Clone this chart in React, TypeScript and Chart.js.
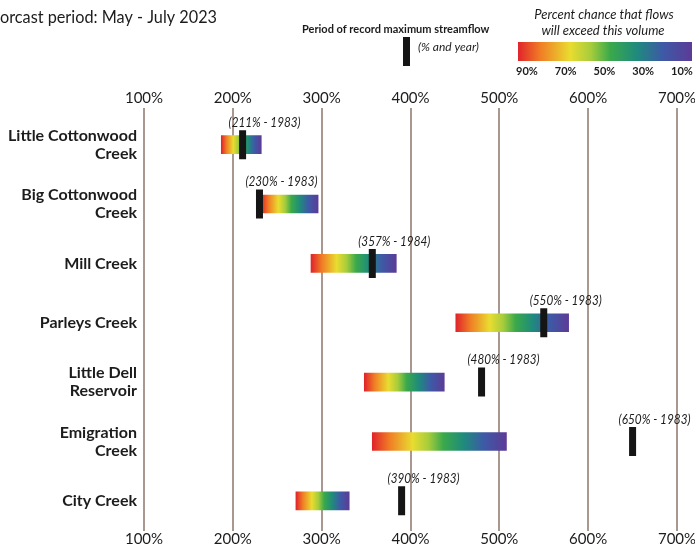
import React, { useEffect, useRef } from 'react';
import { Chart, registerables } from 'chart.js';

Chart.register(...registerables);

// ---- data ----
const categories: (string | string[])[] = [
  ['Little Cottonwood', 'Creek'],
  ['Big Cottonwood', 'Creek'],
  'Mill Creek',
  'Parleys Creek',
  ['Little Dell', 'Reservoir'],
  ['Emigration', 'Creek'],
  'City Creek',
];
const rangeLow = [187, 232, 288, 451, 348, 357, 271];
const rangeHigh = [232, 296, 384, 578, 438, 508, 331];
const recordPct = [211, 230, 357, 550, 480, 650, 390];
const recordYear = [1983, 1983, 1984, 1983, 1983, 1983, 1983];
const xMin = 100;
const xMax = 700;
const xStep = 100;
const legendTicks = ['90%', '70%', '50%', '30%', '10%'];
const titleText = 'orcast period: May - July 2023';
const legendMarkerText = 'Period of record maximum streamflow';
const legendMarkerSub = '(% and year)';
const legendGradText1 = 'Percent chance that flows';
const legendGradText2 = 'will exceed this volume';

const spectrum: [number, string][] = [
  [0, '#e0242b'],
  [0.13, '#f07e25'],
  [0.3, '#e9dc30'],
  [0.42, '#a6cc3c'],
  [0.53, '#3aa94b'],
  [0.68, '#1f8b7c'],
  [0.83, '#3d5aa6'],
  [1, '#5c3b97'],
];

const FONT = 'Lato, "Open Sans", sans-serif';
const GRID = '#a8988f';
const TEXT = '#1c1c1c';

// plot frame (page pixels)
const AREA = { left: 144, right: 677, top: 115, bottom: 530.5 };

function fillGradient(ctx: CanvasRenderingContext2D, x0: number, x1: number) {
  const g = ctx.createLinearGradient(x0, 0, x1, 0);
  spectrum.forEach(([o, c]) => g.addColorStop(o, c));
  return g;
}

const fixLayout = {
  id: 'fixLayout',
  afterLayout(chart: any) {
    const { left: L, right: R, top: T, bottom: B } = AREA;
    const H = chart.height;
    const ca = chart.chartArea;
    ca.left = L; ca.right = R; ca.top = T; ca.bottom = B;
    ca.width = R - L; ca.height = B - T;
    const { x, x2, y } = chart.scales;
    Object.assign(x, { left: L, right: R, width: R - L, top: B, bottom: H, height: H - B });
    Object.assign(x2, { left: L, right: R, width: R - L, top: 0, bottom: T, height: T });
    Object.assign(y, { left: 0, right: L, width: L, top: T, bottom: B, height: B - T });
    [x, x2, y].forEach((s: any) => s.configure());
  },
};

const overlay = {
  id: 'overlay',
  afterDatasetsDraw(chart: any) {
    const ctx: CanvasRenderingContext2D = chart.ctx;
    const xs = chart.scales.x;
    const ys = chart.scales.y;
    ctx.save();
    ctx.fillStyle = TEXT;
    ctx.font = `italic 13px ${FONT}`;
    ctx.textAlign = 'center';
    ctx.textBaseline = 'middle';
    recordPct.forEach((v, i) => {
      const x = xs.getPixelForValue(v);
      const y = ys.getPixelForValue(i);
      ctx.fillText(`(${v}% - ${recordYear[i]})`, x + 22, y - 22, 72);
    });
    ctx.restore();
  },
  afterDraw(chart: any) {
    const ctx: CanvasRenderingContext2D = chart.ctx;
    ctx.save();
    ctx.fillStyle = TEXT;
    ctx.textBaseline = 'middle';
    // title
    ctx.textAlign = 'left';
    ctx.font = `17px ${FONT}`;
    ctx.fillText(titleText, 0, 18, 217);
    // marker legend
    ctx.font = `bold 11px ${FONT}`;
    ctx.fillText(legendMarkerText, 302, 29, 210);
    ctx.fillStyle = '#151515';
    ctx.fillRect(403, 37, 7, 29);
    ctx.fillStyle = TEXT;
    ctx.font = `italic 12px ${FONT}`;
    ctx.fillText(legendMarkerSub, 418, 47, 72);
    // gradient legend
    ctx.textAlign = 'center';
    ctx.font = `italic 13px ${FONT}`;
    ctx.fillText(legendGradText1, 604, 15, 142);
    ctx.fillText(legendGradText2, 603, 31, 127);
    ctx.fillStyle = fillGradient(ctx, 518, 692);
    ctx.fillRect(518, 42, 174, 19);
    ctx.fillStyle = TEXT;
    ctx.font = `bold 11px ${FONT}`;
    const lx0 = 527;
    const lx1 = 682;
    legendTicks.forEach((t, i) => {
      ctx.fillText(t, lx0 + ((lx1 - lx0) * i) / (legendTicks.length - 1), 71);
    });
    ctx.restore();
  },
};

export default function App() {
  const ref = useRef<HTMLCanvasElement | null>(null);

  useEffect(() => {
    if (!ref.current) return;
    const tickCb = (v: any) => `${v}%`;
    const chart = new Chart(ref.current, {
      type: 'bar',
      data: {
        labels: categories as any,
        datasets: [
          {
            type: 'scatter',
            order: 0,
            xAxisID: 'x',
            yAxisID: 'y',
            data: recordPct.map((v, i) => ({ x: v, y: i })),
            pointStyle: 'line',
            pointRotation: 90,
            pointRadius: 14.5,
            pointBorderWidth: 7,
            pointBorderColor: '#151515',
            pointBackgroundColor: '#151515',
            showLine: false,
          } as any,
          {
            type: 'bar',
            order: 1,
            indexAxis: 'y',
            xAxisID: 'x',
            yAxisID: 'y',
            data: rangeLow.map((lo, i) => [lo, rangeHigh[i]]),
            barThickness: 18,
            borderWidth: 0,
            backgroundColor: (c: any) => {
              const chart = c.chart;
              if (!chart.chartArea || c.type !== 'data' || !Array.isArray(c.raw)) return '#888';
              const xs = chart.scales.x;
              const x0 = xs.getPixelForValue(c.raw[0]);
              const x1 = xs.getPixelForValue(c.raw[1]);
              return fillGradient(chart.ctx, x0, x1);
            },
          } as any,
        ],
      },
      options: {
        animation: false,
        responsive: false,
        devicePixelRatio: 1,
        events: [],
        layout: { padding: { left: 0, right: 18, top: 0, bottom: 0 } },
        plugins: {
          legend: { display: false },
          tooltip: { enabled: false },
          title: { display: false },
        },
        scales: {
          x: {
            type: 'linear',
            position: 'bottom',
            offset: false,
            min: xMin,
            max: xMax,
            ticks: {
              stepSize: xStep,
              callback: tickCb,
              font: { family: FONT, size: 15 },
              color: TEXT,
              padding: 0,
              maxRotation: 0,
            },
            grid: {
              offset: false,
              color: GRID,
              lineWidth: 2,
              drawTicks: false,
              drawOnChartArea: true,
            },
            border: { display: false },
          },
          x2: {
            type: 'linear',
            position: 'top',
            offset: false,
            min: xMin,
            max: xMax,
            ticks: {
              stepSize: xStep,
              callback: tickCb,
              font: { family: FONT, size: 15 },
              color: TEXT,
              padding: 1,
              maxRotation: 0,
            },
            grid: {
              offset: false,
              color: GRID,
              lineWidth: 2,
              drawTicks: true,
              tickLength: 7,
              drawOnChartArea: false,
            },
            border: { display: false },
          },
          y: {
            type: 'category',
            position: 'left',
            offset: true,
            ticks: {
              font: { family: FONT, size: 16, weight: 'bold', lineHeight: 1.125 },
              color: TEXT,
              padding: 7,
            },
            grid: { display: false, drawTicks: false, offset: true },
            border: { display: false },
          },
        },
      } as any,
      plugins: [fixLayout, overlay],
    });
    return () => chart.destroy();
  }, []);

  return (
    <div style={{ position: 'absolute', left: 0, top: 0, width: 695, height: 546, background: '#fff' }}>
      <canvas ref={ref} width={695} height={546} style={{ display: 'block' }} />
    </div>
  );
}
